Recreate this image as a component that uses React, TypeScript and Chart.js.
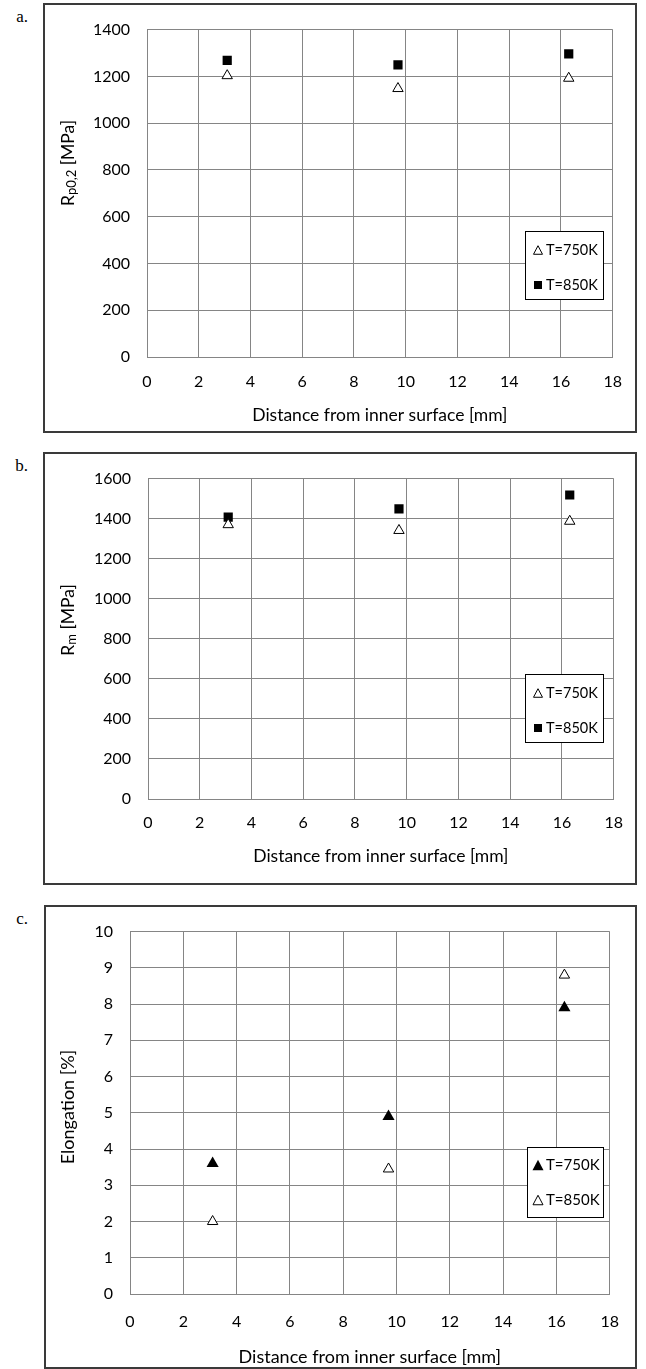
import React, { useEffect, useRef } from 'react';
import { Chart, registerables } from 'chart.js';

Chart.register(...registerables);

// ---------- data ----------
const distA = [3.1, 9.7, 16.3];
const rp02T750 = [1203, 1148, 1192];
const rp02T850 = [1268, 1249, 1296];

const distB = [3.1, 9.7, 16.3];
const rmT750 = [1370, 1341, 1387];
const rmT850 = [1408, 1449, 1518];

const distC = [3.1, 9.7, 16.3];
const elongT750 = [3.6, 4.9, 7.9];
const elongT850 = [2.0, 3.45, 8.8];

const xMin = 0;
const xMax = 18;
const xStep = 2;
const yMaxA = 1400;
const yMaxB = 1600;
const yStepAB = 200;
const yMaxC = 10;
const yStepC = 1;

const xTitle = 'Distance from inner surface [mm]';
const legend750 = 'T=750K';
const legend850 = 'T=850K';

// ---------- types ----------
type Part = { t: string; sub?: boolean };
type Series = { label: string; xs: number[]; ys: number[]; style: 'triangle' | 'rect'; filled: boolean; radius: number; legendSize: number };
type PanelCfg = {
  letter: string;
  left: number; top: number; width: number; height: number;
  plotLeft: number; plotRight: number; plotTop: number; plotBottom: number;
  yMax: number; yStep: number;
  tickFont: number; titleFont: number;
  xTickPad: number; yTickPad: number;
  yTitle: Part[]; yTitleX: number; yTitleY: number; xTitleY: number;
  legend: { x: number; y: number; w: number; h: number; rows: number[]; markerX: number; textX: number; font: number };
  series: Series[];
};

const FONT = 'Lato, "Open Sans", sans-serif';
const GRID = '#858585';

function drawMarker(ctx: CanvasRenderingContext2D, style: string, filled: boolean, x: number, y: number, size: number) {
  ctx.save();
  ctx.beginPath();
  if (style === 'rect') {
    ctx.rect(x - size / 2, y - size / 2, size, size);
  } else {
    const h = size * 0.95;
    ctx.moveTo(x, y - h / 2);
    ctx.lineTo(x + size / 2, y + h / 2);
    ctx.lineTo(x - size / 2, y + h / 2);
    ctx.closePath();
  }
  if (filled) {
    ctx.fillStyle = '#000';
    ctx.fill();
  } else {
    ctx.fillStyle = '#fff';
    ctx.fill();
    ctx.lineWidth = 1;
    ctx.strokeStyle = '#000';
    ctx.stroke();
  }
  ctx.restore();
}

function makeDecor(cfg: PanelCfg) {
  return {
    id: 'decor' + cfg.letter,
    afterDraw(chart: any) {
      const ctx: CanvasRenderingContext2D = chart.ctx;
      ctx.save();
      // outer box
      ctx.strokeStyle = '#3a3a3a';
      ctx.lineWidth = 2;
      ctx.strokeRect(1, 1, cfg.width - 2, cfg.height - 2);

      // x title
      ctx.fillStyle = '#000';
      ctx.font = `${cfg.titleFont}px ${FONT}`;
      ctx.textAlign = 'center';
      ctx.textBaseline = 'middle';
      const ca = chart.chartArea;
      ctx.fillText(xTitle, (ca.left + ca.right) / 2, cfg.xTitleY);

      // y title (rotated, with subscript)
      ctx.save();
      ctx.translate(cfg.yTitleX, cfg.yTitleY);
      ctx.rotate(-Math.PI / 2);
      const normal = `${cfg.titleFont}px ${FONT}`;
      const small = `${Math.round(cfg.titleFont * 0.75)}px ${FONT}`;
      let total = 0;
      for (const p of cfg.yTitle) {
        ctx.font = p.sub ? small : normal;
        total += ctx.measureText(p.t).width;
      }
      let cx = -total / 2;
      ctx.textAlign = 'left';
      ctx.textBaseline = 'middle';
      for (const p of cfg.yTitle) {
        ctx.font = p.sub ? small : normal;
        ctx.fillText(p.t, cx, p.sub ? 4 : 0);
        cx += ctx.measureText(p.t).width;
      }
      ctx.restore();

      // legend
      const L = cfg.legend;
      ctx.fillStyle = '#fff';
      ctx.fillRect(L.x, L.y, L.w, L.h);
      ctx.strokeStyle = '#000';
      ctx.lineWidth = 1;
      ctx.strokeRect(L.x + 0.5, L.y + 0.5, L.w, L.h);
      ctx.font = `${L.font}px ${FONT}`;
      ctx.textAlign = 'left';
      ctx.textBaseline = 'middle';
      cfg.series.forEach((s, i) => {
        const ry = L.rows[i];
        drawMarker(ctx, s.style, s.filled, L.markerX, ry, s.legendSize);
        ctx.fillStyle = '#000';
        ctx.fillText(s.label, L.textX, ry);
      });
      ctx.restore();
    },
  };
}

const panels: PanelCfg[] = [
  {
    letter: 'a.',
    left: 43, top: 3, width: 594, height: 430,
    plotLeft: 104, plotRight: 572, plotTop: 23, plotBottom: 354,
    yMax: yMaxA, yStep: yStepAB,
    tickFont: 16, titleFont: 17.5, xTickPad: 15, yTickPad: 17,
    yTitle: [{ t: 'R' }, { t: 'p0,2', sub: true }, { t: ' [MPa]' }],
    yTitleX: 25, yTitleY: 160, xTitleY: 412,
    legend: { x: 482, y: 228, w: 78, h: 68, rows: [247, 282], markerX: 495, textX: 503, font: 14.5 },
    series: [
      { label: legend750, xs: distA, ys: rp02T750, style: 'triangle', filled: false, radius: 6, legendSize: 9 },
      { label: legend850, xs: distA, ys: rp02T850, style: 'rect', filled: true, radius: 6.5, legendSize: 8 },
    ],
  },
  {
    letter: 'b.',
    left: 43, top: 452, width: 594, height: 433,
    plotLeft: 105, plotRight: 572, plotTop: 23, plotBottom: 347,
    yMax: yMaxB, yStep: yStepAB,
    tickFont: 16, titleFont: 17.5, xTickPad: 14, yTickPad: 17,
    yTitle: [{ t: 'R' }, { t: 'm', sub: true }, { t: ' [MPa]' }],
    yTitleX: 25, yTitleY: 168, xTitleY: 404,
    legend: { x: 482, y: 222, w: 78, h: 68, rows: [241, 276], markerX: 495, textX: 503, font: 14.5 },
    series: [
      { label: legend750, xs: distB, ys: rmT750, style: 'triangle', filled: false, radius: 6, legendSize: 9 },
      { label: legend850, xs: distB, ys: rmT850, style: 'rect', filled: true, radius: 6.5, legendSize: 8 },
    ],
  },
  {
    letter: 'c.',
    left: 44, top: 905, width: 593, height: 464,
    plotLeft: 86, plotRight: 573, plotTop: 12, plotBottom: 389,
    yMax: yMaxC, yStep: yStepC,
    tickFont: 16, titleFont: 18, xTickPad: 18, yTickPad: 17,
    yTitle: [{ t: 'Elongation [%]' }],
    yTitleX: 24, yTitleY: 202, xTitleY: 452,
    legend: { x: 483, y: 242, w: 76, h: 70, rows: [260, 295], markerX: 494, textX: 502, font: 15 },
    series: [
      { label: legend750, xs: distC, ys: elongT750, style: 'triangle', filled: true, radius: 7, legendSize: 11 },
      { label: legend850, xs: distC, ys: elongT850, style: 'triangle', filled: false, radius: 6, legendSize: 10 },
    ],
  },
];

function Panel({ cfg }: { cfg: PanelCfg }) {
  const ref = useRef<HTMLCanvasElement | null>(null);
  useEffect(() => {
    if (!ref.current) return;
    const datasets = cfg.series.map((s) => ({
      label: s.label,
      data: s.xs.map((x, i) => ({ x, y: s.ys[i] })),
      pointStyle: s.style,
      pointRadius: s.radius,
      pointHoverRadius: s.radius,
      backgroundColor: s.filled ? '#000' : '#fff',
      borderColor: '#000',
      borderWidth: s.filled ? 0 : 1,
      showLine: false,
    }));
    const chart = new Chart(ref.current, {
      type: 'scatter',
      data: { datasets },
      options: {
        animation: false,
        responsive: false,
        devicePixelRatio: 1,
        layout: { padding: { top: cfg.plotTop, right: cfg.width - cfg.plotRight, left: 0, bottom: 0 } },
        plugins: { legend: { display: false }, tooltip: { enabled: false }, title: { display: false } },
        scales: {
          x: {
            type: 'linear', min: xMin, max: xMax,
            afterFit: (s: any) => { s.height = cfg.height - cfg.plotBottom; },
            ticks: { stepSize: xStep, color: '#000', font: { family: FONT, size: cfg.tickFont }, padding: cfg.xTickPad, maxRotation: 0, callback: (v: any) => String(v) },
            grid: { color: GRID, lineWidth: 1, drawTicks: false },
            border: { color: GRID, width: 1 },
          },
          y: {
            type: 'linear', min: 0, max: cfg.yMax,
            afterFit: (s: any) => { s.width = cfg.plotLeft; },
            ticks: { stepSize: cfg.yStep, color: '#000', font: { family: FONT, size: cfg.tickFont }, padding: cfg.yTickPad, callback: (v: any) => String(v) },
            grid: { color: GRID, lineWidth: 1, drawTicks: false },
            border: { color: GRID, width: 1 },
          },
        },
      },
      plugins: [makeDecor(cfg)],
    } as any);
    return () => chart.destroy();
  }, [cfg]);
  return (
    <>
      <div
        style={{
          position: 'absolute', left: 0, width: 28, top: cfg.top + 4,
          textAlign: 'right', fontFamily: '"Liberation Serif", "Times New Roman", serif', fontSize: 17, lineHeight: '20px',
        }}
      >
        {cfg.letter}
      </div>
      <canvas
        ref={ref}
        width={cfg.width}
        height={cfg.height}
        style={{ position: 'absolute', left: cfg.left, top: cfg.top, width: cfg.width, height: cfg.height }}
      />
    </>
  );
}

export default function App() {
  return (
    <div style={{ position: 'absolute', left: 0, top: 0, width: 646, height: 1369, background: '#fff', overflow: 'hidden' }}>
      {panels.map((p) => (
        <Panel key={p.letter} cfg={p} />
      ))}
    </div>
  );
}
